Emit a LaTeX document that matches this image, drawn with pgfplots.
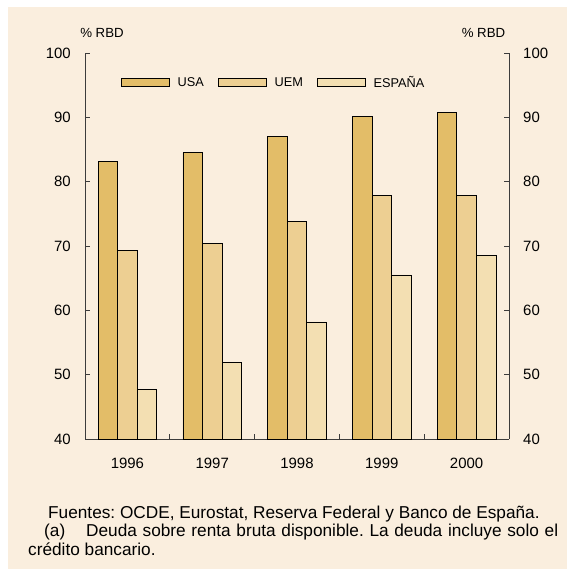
\documentclass[border=0pt]{standalone}
\usepackage{fontspec}
\setmainfont{Liberation Sans}
\usepackage{pgfplots}
\pgfplotsset{compat=1.18}
\definecolor{cream}{RGB}{250,238,222}
\definecolor{cusa}{RGB}{227,189,104}
\definecolor{cuem}{RGB}{237,207,146}
\definecolor{cesp}{RGB}{243,223,178}
\definecolor{axgray}{RGB}{60,60,60}
\pgfplotsset{
  mybar/.style={ybar, bar width=0.23, draw=black, line width=0.7bp,
    legend image code/.code={\draw[##1, line width=0.7bp] (0bp,-4.2bp) rectangle (48bp,4.2bp);}},
  myframe/.style={
    at={(85bp,-439bp)}, anchor=south west,
    width=424bp, height=386bp, scale only axis,
    xmin=0.5, xmax=5.5, ymin=40, ymax=100,
    ytick={40,50,...,100},
    tick align=inside, major tick length=5bp,
    tick style={axgray, line width=0.8bp},
    axis line style={axgray, line width=0.8bp},
    /pgf/number format/assume math mode=true,
  }
}
\begin{document}
\frenchspacing
\begin{tikzpicture}
\useasboundingbox (0,0) rectangle (567bp,-569bp);
\fill[white] (0,0) rectangle (567bp,-569bp);
\fill[cream] (8bp,-7bp) rectangle (567bp,-569bp);
\begin{axis}[
  myframe,
  axis x line*=bottom, axis y line*=left,
  xtick={1,2,3,4,5}, xticklabels={1996,1997,1998,1999,2000},
  xtick style={draw=none},
  extra x ticks={1.5,2.5,3.5,4.5}, extra x tick labels={},
  extra x tick style={xtick style={draw=axgray}},
  yticklabel style={font=\fontsize{15}{18}\selectfont, inner sep=0pt, xshift=-14bp},
  xticklabel style={font=\fontsize{15}{18}\selectfont, inner sep=0pt, yshift=-18.5bp},
  legend style={at={(axis description cs:0.0849,0.9236)}, anchor=west,
    draw=none, fill=none, inner sep=0pt, outer sep=0pt,
    legend columns=3, font=\fontsize{12.8}{14}\selectfont,
    /tikz/every odd column/.style={column sep=8bp},
    /tikz/every even column/.style={column sep=14bp},
    nodes={inner sep=0pt}},
  legend cell align=left,
]
\addplot[mybar, fill=cusa, bar shift=-0.23] coordinates {(1,83.2) (2,84.5) (3,87.0) (4,90.1) (5,90.8)};
\addplot[mybar, fill=cuem, bar shift=0] coordinates {(1,69.3) (2,70.4) (3,73.8) (4,77.9) (5,77.9)};
\addplot[mybar, fill=cesp, bar shift=0.23] coordinates {(1,47.7) (2,51.9) (3,58.2) (4,65.5) (5,68.6)};
\legend{USA,UEM,ESPAÑA}
\end{axis}
\begin{axis}[
  myframe,
  axis x line=none, axis y line*=right,
  yticklabel style={font=\fontsize{15}{18}\selectfont, inner sep=0pt, xshift=14bp},
]
\addplot[draw=none] coordinates {(1,50)};
\end{axis}
\node[anchor=base, inner sep=0pt, font=\fontsize{13.3}{15}\selectfont] at (102bp,-37bp) {\% RBD};
\node[anchor=base, inner sep=0pt, font=\fontsize{13.3}{15}\selectfont] at (483.5bp,-37bp) {\% RBD};
\node[anchor=base west, inner sep=0pt, font=\fontsize{17.3}{19}\selectfont] at (48bp,-518bp) {Fuentes: OCDE, Eurostat, Reserva Federal y Banco de España.};
\node[anchor=base west, inner sep=0pt, font=\fontsize{17.3}{19}\selectfont] at (44bp,-536.5bp) {(a)};
\node[anchor=base west, inner sep=0pt, font=\fontsize{17.3}{19}\selectfont] at (86bp,-536.5bp) {\makebox[472bp][s]{Deuda sobre renta bruta disponible. La deuda incluye solo el}};
\node[anchor=base west, inner sep=0pt, font=\fontsize{17.3}{19}\selectfont] at (28bp,-555bp) {crédito bancario.};
\end{tikzpicture}
\end{document}
